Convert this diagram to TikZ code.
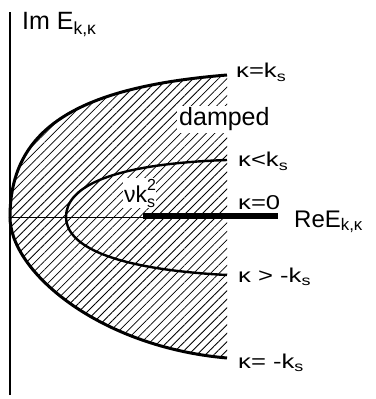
\documentclass[tikz,border=0pt]{standalone}
\usepackage{fontspec}
\setmainfont{Liberation Sans}
\usepackage{tikz}
\usetikzlibrary{
    patterns.meta
}

\newcommand{\lowidx}[1]{\textsubscript{#1}}

\begin{document}
\begin{tikzpicture}[x=10pt,y=10pt,
    lbl/.style={anchor=base west,inner sep=0pt,
        font=\fontsize{20}{24}\selectfont\addfontfeature{FakeStretch=1.28}},
    big/.style={anchor=base west,inner sep=0pt,font=\fontsize{25}{30}\selectfont},
    bound/.style={line width=3pt},
    branch/.style={line width=2.4pt}]

\useasboundingbox (-1,-18.2) rectangle (36.5,21.7);

% Damped region
\fill[pattern={Lines[angle=45,distance=6pt,line width=0.8pt]}]
    (21.7,14.2) .. controls (7,13) and (0,9) .. (0,0)
    .. controls (0,-5.5) and (9,-13) .. (21.7,-14.1) -- cycle;

% Labels on white
\node[big,fill=white,inner sep=2pt] (damp) at (16.7,9.1) {damped};
\node[big,fill=white,inner sep=1pt,font=\fontsize{23}{28}\selectfont] (nuks) at (11.3,1.5)
    {νk\rlap{\fontsize{16}{16}\selectfont\raisebox{12pt}{2}}%
     {\fontsize{16}{16}\selectfont\raisebox{-5pt}{s}}};

% Axes
\draw[line width=1.2pt] (0,-17.8) -- (0,20.5);
\draw[line width=0.8pt] (0,0) -- (13.3,0);

% Real part
\draw[line width=6pt] (13.3,0.1) -- (26.8,0.1);

% Branches
\draw[bound] (21.7,14.2) .. controls (7,13) and (0,9) .. (0,0)
    .. controls (0,-5.5) and (9,-13) .. (21.7,-14.1);
\draw[branch] (21.7,5.7) .. controls (10,5.3) and (5.6,3) .. (5.6,0)
    .. controls (5.6,-2.8) and (10,-5.2) .. (21.7,-5.8);

% Axis labels
\node[big] (imE) at (1.2,18.7) {Im E\lowidx{k,κ}};
\node[big,font=\fontsize{24}{29}\selectfont] (reE) at (28.4,-1.0) {ReE\lowidx{k,κ}};

% Branch labels
\node[lbl] (kup) at (22.6,13.9) {κ=k\lowidx{s}};
\node[lbl] (kless) at (22.8,5.0) {κ<k\lowidx{s}};
\node[lbl] (kzero) at (22.8,0.8) {κ=0};
\node[lbl] (kmore) at (22.8,-6.5) {κ > -k\lowidx{s}};
\node[lbl] (kdown) at (22.8,-15.1) {κ= -k\lowidx{s}};

\end{tikzpicture}
\end{document}
